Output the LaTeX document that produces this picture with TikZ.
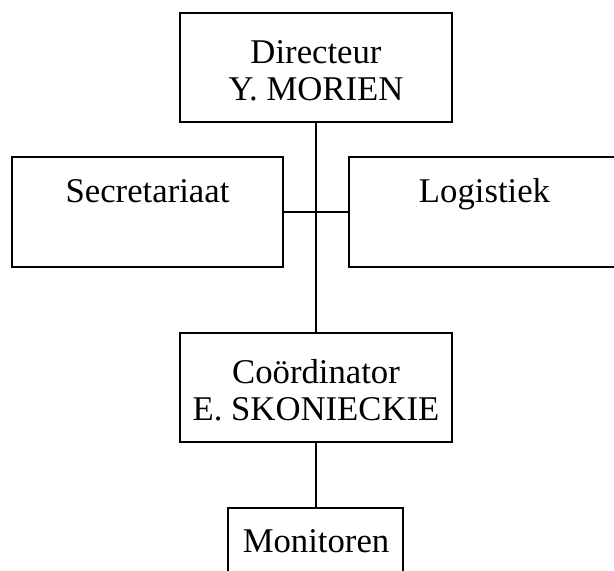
\documentclass[tikz,border=0pt]{standalone}
\usepackage{fontspec}
\setmainfont{Liberation Serif}
\begin{document}
\begin{tikzpicture}[x=1pt,y=-1pt,
  box/.style={draw, line width=2pt, rectangle, inner sep=0pt, outer sep=0pt},
  lbl/.style={anchor=base, inner sep=0pt, font=\fontsize{34.7}{37}\selectfont},
  conn/.style={line width=2pt}]
\useasboundingbox (0,0) rectangle (614,571);
\clip (0,0) rectangle (614,571);
% boxes
\node[box, minimum width=272pt, minimum height=109pt] (dir) at (316,67.5) {};
\node[box, minimum width=271pt, minimum height=110pt] (sec) at (147.5,212) {};
\node[box, minimum width=271pt, minimum height=110pt] (log) at (484.5,212) {};
\node[box, minimum width=272pt, minimum height=109pt] (coo) at (316,387.5) {};
\node[box, minimum width=175pt, minimum height=72pt] (mon) at (315.5,544) {};
% texts
\node[lbl] (t1) at (316,63) {Directeur};
\node[lbl] (t2) at (316,100) {Y. MORIEN};
\node[lbl] (t3) at (147.5,202) {Secretariaat};
\node[lbl] (t4) at (484.5,202) {Logistiek};
\node[lbl] (t5) at (316,383) {Coördinator};
\node[lbl] (t6) at (316,420) {E. SKONIECKIE};
\node[lbl] (t7) at (316,552) {Monitoren};
% connectors
\draw[conn] (dir.south) -- (coo.north);
\draw[conn] (sec.east) -- (log.west);
\draw[conn] (coo.south) -- (mon.north -| coo.south);
\end{tikzpicture}
\end{document}
